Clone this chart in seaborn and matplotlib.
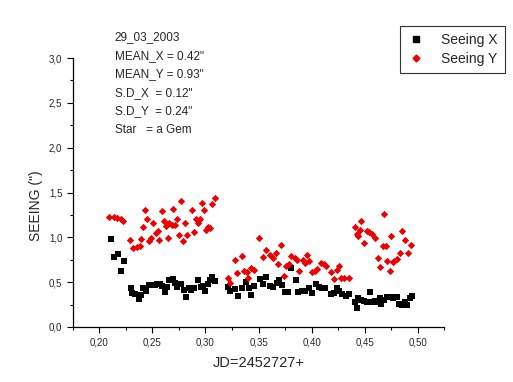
import pandas as pd
import seaborn as sns
import matplotlib.pyplot as plt
from matplotlib.lines import Line2D
from matplotlib.ticker import MultipleLocator, FuncFormatter

# Seeing X (negro, cuadrados)
jd_x = [0.2105, 0.2135, 0.2175, 0.220, 0.223, 0.2295, 0.231, 0.234, 0.237, 0.239,
        0.241, 0.2435, 0.2465, 0.249, 0.252, 0.2545, 0.257, 0.259, 0.2615, 0.264,
        0.266, 0.269, 0.271, 0.2735, 0.2765, 0.2795, 0.282, 0.284, 0.2865, 0.289,
        0.293, 0.2955, 0.2975, 0.300, 0.302, 0.3045, 0.3065, 0.309,
        0.321, 0.3235, 0.3275, 0.3305, 0.334, 0.3385, 0.341, 0.343, 0.346, 0.351,
        0.354, 0.357, 0.3605, 0.364, 0.367, 0.3695, 0.3725, 0.3745, 0.378, 0.381,
        0.3855, 0.3875, 0.391, 0.394, 0.398, 0.400, 0.404, 0.407, 0.410, 0.413,
        0.418, 0.421, 0.424, 0.426, 0.429, 0.432, 0.435,
        0.441, 0.4425, 0.444, 0.447, 0.4495, 0.452, 0.455, 0.457, 0.4595, 0.462,
        0.4645, 0.465, 0.468, 0.4715, 0.4745, 0.477, 0.480, 0.4825, 0.4855, 0.488,
        0.490, 0.4925, 0.4945]
seeing_x = [0.98, 0.78, 0.81, 0.62, 0.74, 0.43, 0.38, 0.37, 0.31, 0.36,
            0.43, 0.40, 0.47, 0.47, 0.47, 0.48, 0.48, 0.46, 0.39, 0.45,
            0.52, 0.54, 0.49, 0.45, 0.48, 0.41, 0.34, 0.44, 0.41, 0.43,
            0.52, 0.45, 0.46, 0.40, 0.48, 0.52, 0.56, 0.51,
            0.45, 0.40, 0.42, 0.35, 0.43, 0.50, 0.43, 0.36, 0.46, 0.54,
            0.48, 0.56, 0.46, 0.45, 0.49, 0.52, 0.47, 0.39, 0.39, 0.66,
            0.52, 0.39, 0.40, 0.40, 0.43, 0.38, 0.48, 0.45, 0.43, 0.43,
            0.37, 0.38, 0.43, 0.40, 0.37, 0.35, 0.37,
            0.28, 0.21, 0.32, 0.30, 0.29, 0.28, 0.39, 0.28, 0.29, 0.28,
            0.32, 0.26, 0.30, 0.33, 0.34, 0.32, 0.33, 0.26, 0.24, 0.28,
            0.24, 0.32, 0.35]

# Seeing Y (rojo, rombos)
jd_y = [0.209, 0.2135, 0.217, 0.220, 0.222, 0.229, 0.232, 0.235, 0.238, 0.239,
        0.241, 0.243, 0.245, 0.247, 0.249, 0.251, 0.253, 0.255, 0.256, 0.259,
        0.261, 0.263, 0.266, 0.265, 0.268, 0.2695, 0.271, 0.273, 0.275, 0.277,
        0.279, 0.281, 0.283, 0.287, 0.289, 0.291, 0.293, 0.295, 0.297, 0.299,
        0.3005, 0.3025, 0.304, 0.306, 0.3085,
        0.321, 0.3235, 0.328, 0.330, 0.334, 0.336, 0.339, 0.3405, 0.343, 0.3455,
        0.3505, 0.3545, 0.357, 0.3605, 0.364, 0.366, 0.3685, 0.3715, 0.374, 0.3755,
        0.3785, 0.381, 0.384, 0.386, 0.388, 0.3915, 0.394, 0.396, 0.398, 0.4005,
        0.403, 0.405, 0.409, 0.4115, 0.414, 0.4185, 0.4215, 0.4235, 0.426, 0.428,
        0.4305, 0.435,
        0.441, 0.443, 0.4435, 0.446, 0.447, 0.4495, 0.4525, 0.4545, 0.457, 0.4595,
        0.4625, 0.464, 0.4685, 0.467, 0.4705, 0.4715, 0.4735, 0.4745, 0.4765, 0.478,
        0.480, 0.483, 0.485, 0.488, 0.491, 0.4935]
seeing_y = [1.23, 1.23, 1.22, 1.20, 1.18, 0.97, 0.88, 0.89, 0.90, 0.98,
            1.12, 1.30, 1.20, 0.96, 0.99, 1.16, 1.05, 1.07, 0.97, 1.29,
            1.18, 1.13, 1.16, 0.99, 1.14, 1.32, 1.14, 1.20, 1.03, 1.41,
            0.96, 1.16, 1.03, 1.30, 1.06, 1.20, 1.16, 1.21, 1.38, 1.30,
            1.08, 1.11, 1.10, 1.37, 1.44,
            0.55, 0.49, 0.75, 0.60, 0.79, 0.63, 0.61, 0.55, 0.66, 0.64,
            0.99, 0.78, 0.86, 0.80, 0.77, 0.82, 0.70, 0.91, 0.57, 0.68,
            0.70, 0.79, 0.77, 0.75, 0.63, 0.75, 0.71, 0.80, 0.74, 0.61,
            0.63, 0.65, 0.71, 0.70, 0.68, 0.61, 0.53, 0.64, 0.68, 0.55,
            0.55, 0.55,
            1.11, 1.04, 1.01, 1.08, 1.18, 0.94, 1.07, 1.06, 1.04, 0.99,
            0.77, 0.67, 1.26, 0.90, 0.90, 0.74, 0.63, 1.01, 0.72, 0.74,
            0.76, 0.82, 1.07, 0.97, 0.83, 0.91]

info = ["29_03_2003", 'MEAN_X = 0.42"', 'MEAN_Y = 0.93"',
        'S.D_X  = 0.12"', 'S.D_Y  = 0.24"', "Star   = a Gem"]

df_x = pd.DataFrame({"jd": jd_x, "seeing": seeing_x})
df_y = pd.DataFrame({"jd": jd_y, "seeing": seeing_y})

sns.set_style("ticks")
plt.rcParams['font.family'] = ['Liberation Sans', 'DejaVu Sans']

fig = plt.figure(figsize=(5.13, 3.82), dpi=100)
ax = fig.add_axes([0.142, 0.144, 0.724, 0.704])

sns.scatterplot(data=df_x, x="jd", y="seeing", marker="s", color="black",
                s=16, linewidth=0, ax=ax)
sns.scatterplot(data=df_y, x="jd", y="seeing", marker="D", color="#ee0000",
                s=14, linewidth=0, ax=ax)

ax.set_xlim(0.175, 0.525)
ax.set_ylim(0, 3.0)
ax.xaxis.set_major_locator(MultipleLocator(0.05))
ax.xaxis.set_minor_locator(MultipleLocator(0.025))
ax.yaxis.set_major_locator(MultipleLocator(0.5))
ax.yaxis.set_minor_locator(MultipleLocator(0.25))
ax.xaxis.set_major_formatter(FuncFormatter(lambda v, p: f"{v:.2f}".replace(".", ",")))
ax.yaxis.set_major_formatter(FuncFormatter(lambda v, p: f"{v:.1f}".replace(".", ",")))
ax.tick_params(which="major", length=4, width=0.8, labelsize=7, direction="out", color="black")
ax.tick_params(which="minor", length=2.5, width=0.8, direction="out", color="black")
sns.despine(ax=ax)
for s in ["left", "bottom"]:
    ax.spines[s].set_color("black")
    ax.spines[s].set_linewidth(0.9)

ax.set_xlabel("JD=2452727+", fontsize=10.5, labelpad=6)
ax.set_ylabel('SEEING (")', fontsize=10)
ax.yaxis.set_label_coords(-0.08, 0.45)

for i, t in enumerate(info):
    fig.text(0.224, 1 - (37 + 18.6 * i) / 382, t, fontsize=8.5, va="center", ha="left")

handles = [
    Line2D([], [], marker="s", color="black", linestyle="none", markersize=4),
    Line2D([], [], marker="D", color="#ee0000", linestyle="none", markersize=3.5),
]
leg = fig.legend(handles, ["Seeing X", "Seeing Y"], loc="upper right",
                 bbox_to_anchor=(0.99, 0.94), fontsize=10, frameon=True,
                 fancybox=False, edgecolor="black", handlelength=1.2,
                 handletextpad=1.2, borderpad=0.55, labelspacing=0.3,
                 borderaxespad=0.2)
leg.get_frame().set_linewidth(0.8)

plt.savefig("out.png", dpi=100)
